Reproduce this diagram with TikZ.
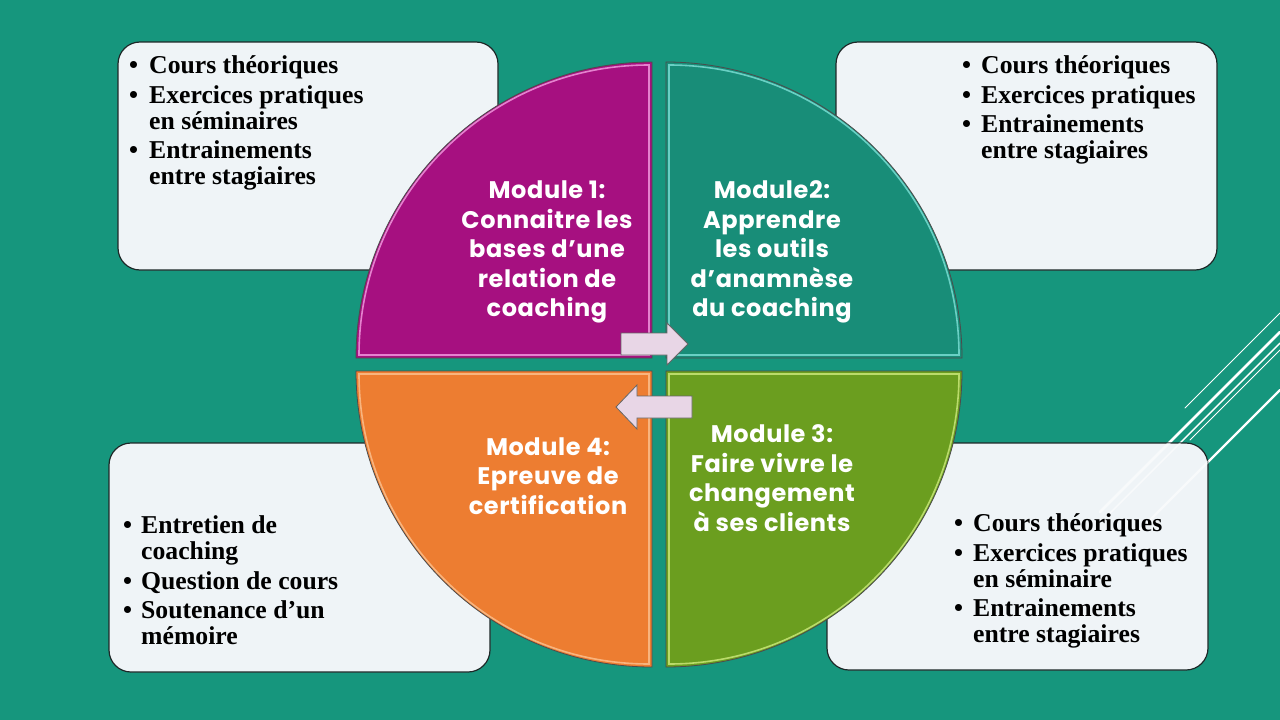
\documentclass[tikz,border=0pt]{standalone}
\usepackage{fontspec}
\setmainfont{Liberation Serif}
\newfontfamily\modfont[LetterSpace=2.5]{Poppins}
\definecolor{bgteal}{RGB}{22,150,125}
\definecolor{secmag}{RGB}{166,16,128}
\definecolor{rimmag}{RGB}{240,150,220}
\definecolor{secteal}{RGB}{24,141,120}
\definecolor{rimteal}{RGB}{120,220,210}
\definecolor{secgreen}{RGB}{107,158,31}
\definecolor{rimgreen}{RGB}{200,230,120}
\definecolor{secorange}{RGB}{237,125,49}
\definecolor{rimorange}{RGB}{250,190,140}
\definecolor{boxfill}{RGB}{239,244,247}
\definecolor{boxline}{RGB}{30,40,40}
\definecolor{arrowfill}{RGB}{232,214,230}
\newcommand\bulw[1]{\makebox[#1][l]{\textbullet}}
\begin{document}
\begin{tikzpicture}[x=1pt,y=-1pt,
  infobox/.style={fill=boxfill,draw=boxline,line width=1.2pt,rounded corners=22pt},
  sector/.style={draw=black!70,line width=0.8pt},
  rim/.style={line width=1.6pt,opacity=0.85},
  blockarrow/.style={fill=arrowfill,draw=black!60,line width=0.8pt},
  deco/.style={white,line cap=round},
  boxtext/.style={anchor=base west,inner sep=0pt,font=\bfseries\fontsize{25.7}{26}\selectfont},
  modtext/.style={anchor=center,inner sep=0pt,text=white,align=center,font=\modfont\bfseries\fontsize{24}{29.5}\selectfont}]
\useasboundingbox (0,0) rectangle (1280,720);
\fill[bgteal] (0,0) rectangle (1280,720);

% decorative lines
\draw[deco,line width=1pt] (1185,408) -- (1280,313);
\draw[deco,line width=2.6pt] (1100,512) -- (1280,332);
\draw[deco,line width=1.4pt] (1110,513) -- (1280,343);
\draw[deco,line width=0.9pt] (1190,440) -- (1280,350);
\draw[deco,line width=2.2pt] (1140,530) -- (1280,390);

% info boxes
\draw[infobox] (118,42) rectangle (498,270) coordinate (tlbox);
\draw[infobox] (836,42) rectangle (1217,270) coordinate (trbox);
\draw[infobox] (109,443) rectangle (490,672) coordinate (blbox);
\draw[infobox] (827,443) rectangle (1208,670) coordinate (brbox);
\begin{scope}
\clip (827,443) rectangle (1208,670);
\draw[deco,line width=2.6pt,opacity=0.6] (1100,512) -- (1280,332);
\draw[deco,line width=1.4pt,opacity=0.6] (1110,513) -- (1280,343);
\draw[deco,line width=2.2pt,opacity=0.6] (1140,530) -- (1280,390);
\end{scope}

\node[boxtext] (tltext) at (129,73) {\begin{tabular}[t]{@{}l@{}l@{}}
\bulw{20pt} & Cours théoriques\\[4pt]
\bulw{20pt} & Exercices pratiques\\
 & en séminaires\\[3pt]
\bulw{20pt} & Entrainements\\
 & entre stagiaires
\end{tabular}};

\node[boxtext] (trtext) at (962,73) {\begin{tabular}[t]{@{}l@{}l@{}}
\bulw{19pt} & Cours théoriques\\[4pt]
\bulw{19pt} & Exercices pratiques\\[3pt]
\bulw{19pt} & Entrainements\\
 & entre stagiaires
\end{tabular}};

\node[boxtext] (bltext) at (123,533) {\begin{tabular}[t]{@{}l@{}l@{}}
\bulw{18pt} & Entretien de\\
 & coaching\\[4pt]
\bulw{18pt} & Question de cours\\[3pt]
\bulw{18pt} & Soutenance d’un\\
 & mémoire
\end{tabular}};

\node[boxtext] (brtext) at (954,531) {\begin{tabular}[t]{@{}l@{}l@{}}
\bulw{19pt} & Cours théoriques\\[4pt]
\bulw{19pt} & Exercices pratiques\\
 & en séminaire\\[3pt]
\bulw{19pt} & Entrainements\\
 & entre stagiaires
\end{tabular}};

% sectors
\coordinate (c1) at (652,358);
\coordinate (c2) at (666,358);
\coordinate (c3) at (666,371);
\coordinate (c4) at (652,371);
\fill[secmag] (c1) -- ++(180:296) arc[start angle=180,end angle=270,radius=296] -- cycle;
\draw[rim,rimmag] (649,355) -- ++(180:290) arc[start angle=180,end angle=270,radius=290] -- cycle;
\draw[sector] (c1) -- ++(180:296) arc[start angle=180,end angle=270,radius=296] -- cycle;

\fill[secteal] (c2) -- ++(270:296) arc[start angle=270,end angle=360,radius=296] -- cycle;
\draw[rim,rimteal] (669,355) -- ++(270:290) arc[start angle=270,end angle=360,radius=290] -- cycle;
\draw[sector] (c2) -- ++(270:296) arc[start angle=270,end angle=360,radius=296] -- cycle;

\fill[secgreen] (c3) -- ++(0:296) arc[start angle=0,end angle=90,radius=296] -- cycle;
\draw[rim,rimgreen] (669,374) -- ++(0:290) arc[start angle=0,end angle=90,radius=290] -- cycle;
\draw[sector] (c3) -- ++(0:296) arc[start angle=0,end angle=90,radius=296] -- cycle;

\fill[secorange] (c4) -- ++(90:296) arc[start angle=90,end angle=180,radius=296] -- cycle;
\draw[rim,rimorange] (649,374) -- ++(90:290) arc[start angle=90,end angle=180,radius=290] -- cycle;
\draw[sector] (c4) -- ++(90:296) arc[start angle=90,end angle=180,radius=296] -- cycle;

% module texts
\node[modtext] (m1) at (547,252) {Module 1:\\Connaitre les\\bases d’une\\relation de\\coaching};
\node[modtext] (m2) at (772,252) {Module2:\\Apprendre\\les outils\\d’anamnèse\\du coaching};
\node[modtext] (m3) at (772,478) {Module 3:\\Faire vivre le\\changement\\à ses clients};
\node[modtext] (m4) at (548,476) {Module 4:\\Epreuve de\\certification};

% block arrows
\draw[blockarrow] (621,333) -- (667,333) -- (667,323) -- (688,344) -- (667,365) -- (667,355) -- (621,355) -- cycle;
\draw[blockarrow] (692,396) -- (637,396) -- (637,385) -- (616,407) -- (637,429) -- (637,418) -- (692,418) -- cycle;
\end{tikzpicture}
\end{document}
